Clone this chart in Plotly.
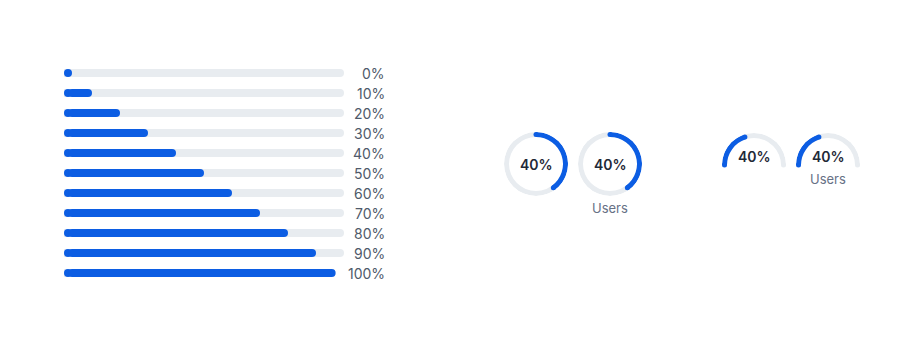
import plotly.graph_objects as go

# ---------------- data ----------------
bar_values = [0, 10, 20, 30, 40, 50, 60, 70, 80, 90, 100]
bar_labels = [f"{v}%" for v in bar_values]
gauge_value = 40
gauge_label = "Users"

# ---------------- style ----------------
W, H = 924, 348
BLUE = "#0c5de3"
TRACK = "#e8ecf0"
LABEL = "#4f5a6a"
DARK = "#1f2937"
MUTED = "#667085"
FONT = "Inter, Roboto, sans-serif"

def px_x(p):
    return p / W

def px_y(p):
    return 1 - p / H

fig = go.Figure()

# --------- progress bars ---------
PX_PER_UNIT = 280 / 100
cap = 4 / PX_PER_UNIT          # radius of the round end, in data units
rows = list(range(len(bar_values)))
track_len = [100 - (3.0 if len(l) > 3 else 0.0) for l in bar_labels]
fill_len = [v / 100 * t for v, t in zip(bar_values, track_len)]

# layer 1: grey tracks (rounded far end; start hidden under the blue cap)
fig.add_trace(go.Bar(y=rows, x=track_len, orientation="h", width=0.4,
                     marker=dict(color=TRACK, line=dict(width=0)),
                     hoverinfo="skip", xaxis="x", yaxis="y"))
# layer 2: round blue start caps
fig.add_trace(go.Scatter(y=rows, x=[cap] * len(rows), mode="markers",
                         marker=dict(color=BLUE, size=8, line=dict(width=0)),
                         cliponaxis=False, hoverinfo="skip", xaxis="x", yaxis="y"))
# layer 3: blue fills, starting at the cap centre (overlaid axes drawn on top)
fig.add_trace(go.Bar(y=rows, x=[max(l - cap, 0) for l in fill_len], base=[cap] * len(rows),
                     orientation="h", width=0.4,
                     marker=dict(color=BLUE, line=dict(width=0)),
                     hoverinfo="skip", xaxis="x2", yaxis="y2"))

annotations = []
for r, lab in zip(rows, bar_labels):
    annotations.append(dict(xref="paper", yref="y", x=px_x(387), y=r, text=lab,
                            xanchor="right", yanchor="middle", showarrow=False,
                            font=dict(family=FONT, size=14, color=LABEL)))

# --------- gauges ---------
R_OUT, THICK = 32, 5
R_MID = R_OUT - THICK / 2

def ring(polar, full, cx, cy, label):
    if full:
        fill_w = gauge_value / 100 * 360
        fig.add_trace(go.Barpolar(theta=[180], width=[360], base=[R_OUT - THICK], r=[THICK],
                                  marker=dict(color=TRACK, line=dict(width=0)),
                                  subplot=polar, hoverinfo="skip"))
        fig.add_trace(go.Barpolar(theta=[fill_w / 2], width=[fill_w], base=[R_OUT - THICK], r=[THICK],
                                  marker=dict(color=BLUE, line=dict(width=0)),
                                  subplot=polar, hoverinfo="skip"))
        fig.add_trace(go.Scatterpolar(theta=[0, fill_w], r=[R_MID, R_MID], mode="markers",
                                      marker=dict(color=BLUE, size=THICK), cliponaxis=False,
                                      subplot=polar, hoverinfo="skip"))
        fig.layout[polar] = dict(
            domain=dict(x=[px_x(cx - R_OUT), px_x(cx + R_OUT)], y=[px_y(cy + R_OUT), px_y(cy - R_OUT)]),
            radialaxis=dict(range=[0, R_OUT], visible=False),
            angularaxis=dict(visible=False, rotation=90, direction="clockwise"),
            bgcolor="rgba(0,0,0,0)", barmode="overlay")
        annotations.append(dict(xref="paper", yref="paper", x=px_x(cx), y=px_y(cy),
                                text=f"{gauge_value}%", showarrow=False,
                                xanchor="center", yanchor="middle",
                                font=dict(family=FONT, size=14, color=DARK, weight=600)))
        if label:
            annotations.append(dict(xref="paper", yref="paper", x=px_x(cx), y=px_y(cy + 44),
                                    text=label, showarrow=False, xanchor="center", yanchor="middle",
                                    font=dict(family=FONT, size=13, color=MUTED)))
    else:
        fill_w = gauge_value / 100 * 180
        fig.add_trace(go.Barpolar(theta=[90], width=[180], base=[R_OUT - THICK], r=[THICK],
                                  marker=dict(color=TRACK, line=dict(width=0)),
                                  subplot=polar, hoverinfo="skip"))
        fig.add_trace(go.Scatterpolar(theta=[0], r=[R_MID], mode="markers",
                                      marker=dict(color=TRACK, size=THICK), cliponaxis=False,
                                      subplot=polar, hoverinfo="skip"))
        fig.add_trace(go.Barpolar(theta=[180 - fill_w / 2], width=[fill_w], base=[R_OUT - THICK], r=[THICK],
                                  marker=dict(color=BLUE, line=dict(width=0)),
                                  subplot=polar, hoverinfo="skip"))
        fig.add_trace(go.Scatterpolar(theta=[180, 180 - fill_w], r=[R_MID, R_MID], mode="markers",
                                      marker=dict(color=BLUE, size=THICK), cliponaxis=False,
                                      subplot=polar, hoverinfo="skip"))
        fig.layout[polar] = dict(
            domain=dict(x=[px_x(cx - R_OUT), px_x(cx + R_OUT)], y=[px_y(cy), px_y(cy - R_OUT)]),
            sector=[0, 180],
            radialaxis=dict(range=[0, R_OUT], visible=False),
            angularaxis=dict(visible=False),
            bgcolor="rgba(0,0,0,0)", barmode="overlay")
        annotations.append(dict(xref="paper", yref="paper", x=px_x(cx), y=px_y(cy - 8),
                                text=f"{gauge_value}%", showarrow=False,
                                xanchor="center", yanchor="middle",
                                font=dict(family=FONT, size=14, color=DARK, weight=600)))
        if label:
            annotations.append(dict(xref="paper", yref="paper", x=px_x(cx), y=px_y(cy + 14),
                                    text=label, showarrow=False, xanchor="center", yanchor="middle",
                                    font=dict(family=FONT, size=13, color=MUTED)))

ring("polar", True, 536, 164, None)
ring("polar2", True, 610, 164, gauge_label)
ring("polar3", False, 754, 165, None)
ring("polar4", False, 828, 165, gauge_label)

xdom = [px_x(64), px_x(344)]
ydom = [px_y(283), px_y(63)]
fig.update_layout(
    width=W, height=H,
    margin=dict(l=0, r=0, t=0, b=0),
    paper_bgcolor="white", plot_bgcolor="rgba(0,0,0,0)",
    showlegend=False,
    barmode="overlay",
    barcornerradius=4,
    xaxis=dict(domain=xdom, range=[0, 100], visible=False, fixedrange=True),
    yaxis=dict(domain=ydom, range=[10.5, -0.5], visible=False, fixedrange=True),
    xaxis2=dict(overlaying="x", range=[0, 100], visible=False, fixedrange=True),
    yaxis2=dict(overlaying="y", range=[10.5, -0.5], visible=False, fixedrange=True),
    annotations=annotations,
    font=dict(family=FONT),
)

fig.write_html("out.html", config={"displayModeBar": False})
